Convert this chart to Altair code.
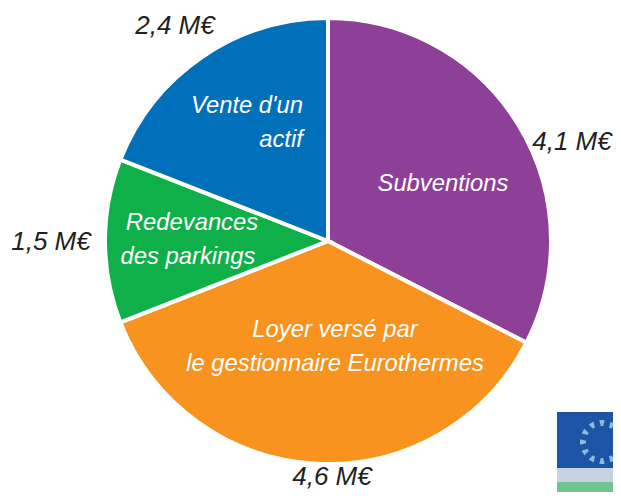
import altair as alt
import pandas as pd

categories = ["Subventions", "Loyer", "Redevances", "Vente"]
values = [4.1, 4.6, 1.5, 2.4]
colors = ["#8E3F97", "#F7931E", "#0FB04A", "#0170BB"]
star_values = [1] * 12

CX, CY = 320, 233
FONT = "Liberation Sans"

df = pd.DataFrame({"cat": categories, "val": values, "ord": range(len(values))})

pie = alt.Chart(df).mark_arc(outerRadius=223, stroke="white", strokeWidth=4).encode(
    theta=alt.Theta("val:Q", stack=True, scale=alt.Scale(range=[0, 6.2832])),
    order=alt.Order("ord:Q"),
    color=alt.Color("cat:N", scale=alt.Scale(domain=categories, range=colors), legend=None),
    x=alt.value(CX), y=alt.value(CY),
)

def label(text, px, py, color, size=23.8):
    return alt.Chart(alt.Data(values=[{"t": text}])).mark_text(
        font=FONT, fontSize=size, fontStyle="italic", color=color, align="center", baseline="middle"
    ).encode(text="t:N", x=alt.value(px - 8), y=alt.value(py - 8))

texts = [
    label("2,4 M€", 175, 26, "#231F20", 26),
    label("4,1 M€", 572, 142, "#231F20", 26),
    label("1,5 M€", 51, 242, "#231F20", 26),
    label("4,6 M€", 332, 477, "#231F20", 26),
    label("Vente d'un", 247, 106, "white"),
    label("actif", 281, 140, "white"),
    label("Subventions", 443, 184, "white"),
    label("Redevances", 192, 223, "white"),
    label("des parkings", 188, 257, "white"),
    label("Loyer versé par", 335, 330, "white"),
    label("le gestionnaire Eurothermes", 335, 364, "white"),
]

def box(x1, x2, y1, y2, color):
    return alt.Chart(alt.Data(values=[{"a": 1}])).mark_rect(color=color).encode(
        x=alt.value(x1 - 8), x2=alt.value(x2 - 8), y=alt.value(y1 - 8), y2=alt.value(y2 - 8)
    )

logo = [
    box(557, 621, 412, 468, "#1C55A5"),
    box(557, 621, 468, 482, "#C5D3E3"),
    box(557, 621, 482, 492, "#6FC48F"),
]

# EU ring of twelve blobs, drawn as a padded donut so it clips at the frame
stars = alt.Chart(pd.DataFrame({"s": star_values, "i": range(12)})).mark_arc(
    innerRadius=16, outerRadius=22, padAngle=0.22, color="#8FBBD9"
).encode(
    theta=alt.Theta("s:Q", stack=True, scale=alt.Scale(range=[-0.262, 6.021])),
    order=alt.Order("i:Q"),
    x=alt.value(594), y=alt.value(434),
)

chart = alt.layer(pie, *logo, stars, *texts).resolve_scale(theta="independent").properties(
    width=605, height=484, padding=0, background="white",
    autosize=alt.AutoSizeParams(type="none"),
).configure_view(stroke=None)

chart.save("out.html", embed_options={"renderer": "svg", "actions": False})
